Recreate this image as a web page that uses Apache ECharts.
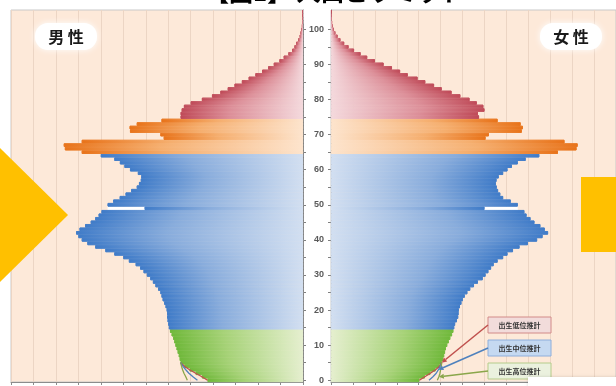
<!DOCTYPE html>
<html>
<head>
<meta charset="utf-8">
<script src="https://cdn.jsdelivr.net/npm/echarts@6/dist/echarts.min.js"></script>
<style>
  html, body { margin: 0; padding: 0; background: #ffffff; }
  #chart { width: 616px; height: 386px; }
</style>
</head>
<body>
<div id="chart"></div>
<script>
// Single-year age categories 0 .. 105
const ages = Array.from({ length: 106 }, (_, i) => String(i));
const ageTickLabels = ['0', '10', '20', '30', '40', '50', '60', '70', '80', '90', '100'];

// Population by single year of age (thousands), ages 5 .. 105
const maleFrom5 = [
  545, 549, 553, 558, 563, 568, 573, 578, 585, 592,
  597, 600, 603, 605, 605, 607, 612, 618, 625, 630,
  635, 645, 657, 668, 680, 695, 710, 725, 745, 775,
  800, 840, 880, 925, 960, 985, 1000, 1010, 995, 970,
  945, 925, 910, 897, 705, 870, 845, 816, 790, 765,
  740, 730, 722, 720, 735, 770, 795, 815, 840, 900,
  985, 1060, 1065, 985, 620, 635, 770, 772, 740, 630,
  545, 545, 540, 530, 500, 450, 405, 368, 335, 305,
  272, 242, 212, 182, 155, 130, 105, 86, 65, 48,
  38, 30, 21, 15, 11, 8, 5, 3, 2, 1, 1
];
const femaleFrom5 = [
  505, 512, 516, 520, 524, 530, 537, 544, 552, 558,
  562, 566, 574, 580, 582, 583, 588, 595, 601, 610,
  622, 635, 652, 670, 692, 705, 718, 730, 742, 760,
  785, 805, 830, 860, 898, 940, 965, 990, 975, 955,
  928, 910, 892, 882, 700, 852, 820, 785, 772, 762,
  756, 752, 755, 765, 785, 805, 825, 852, 888, 950,
  1035, 1120, 1125, 1065, 705, 720, 870, 875, 865, 760,
  675, 670, 700, 695, 665, 632, 590, 550, 505, 470,
  430, 395, 350, 315, 278, 240, 200, 165, 135, 105,
  80, 60, 43, 30, 20, 13, 8, 5, 3, 2, 1
];

// Births scenarios, ages 0 .. 4 (thousands)
const maleLow    = [425, 450, 478, 505, 528];
const maleMid    = [470, 490, 508, 522, 535];
const maleHigh   = [515, 522, 530, 536, 541];
const femaleLow  = [403, 428, 453, 477, 495];
const femaleMid  = [447, 465, 480, 490, 498];
const femaleHigh = [485, 492, 497, 500, 503];

const scenarioNames = ['出生低位推計', '出生中位推計', '出生高位推計'];

// Age band gradients: tip colour, middle, colour near the centre axis
const bandColors = {
  elder:   ['#bf4a58', '#dc8e98', '#f4d9dd'],
  senior:  ['#e8731a', '#f5ae6e', '#fde4cd'],
  working: ['#3f7bc8', '#88acdc', '#d2dff1'],
  child:   ['#6fb83a', '#a6d277', '#e5efcf']
};
function bandOf(age) {
  if (age >= 75) return 'elder';
  if (age >= 65) return 'senior';
  if (age >= 15) return 'working';
  return 'child';
}
function gradient(band, leftward) {
  const c = bandColors[band];
  return {
    type: 'linear', x: leftward ? 0 : 1, y: 0, x2: leftward ? 1 : 0, y2: 0,
    colorStops: [
      { offset: 0, color: c[0] },
      { offset: 0.4, color: c[1] },
      { offset: 1, color: c[2] }
    ]
  };
}
function barItems(values, leftward) {
  return values.map((v, age) => {
    const g = gradient(bandOf(age), leftward);
    return { value: v, itemStyle: { color: g, borderColor: g, borderWidth: 0.8 } };
  });
}
function scenarioLine(under5, from5) {
  return under5.concat([from5[0]]).map((v, age) => [v, age]);
}
// White notch where a cohort is much smaller than the one above it (age 49)
function notch(values, age) {
  return values.map((v, a) => (a === age ? values[a + 1] : null));
}

const maleAll = maleLow.concat(maleFrom5);
const femaleAll = femaleLow.concat(femaleFrom5);

const chart = echarts.init(document.getElementById('chart'), null, { renderer: 'canvas' });

const plotBg = '#fde9d9';
const gridTop = 10, gridH = 372, gridW = 292;
const barW = '100%';

const valueAxis = (gridIndex, inverse) => ({
  type: 'value', gridIndex, min: 0, max: 1300, interval: 100, inverse,
  axisLine: { show: true, onZero: false, lineStyle: { color: '#8c8c8c', width: 1 } },
  axisTick: { show: true, length: 3, lineStyle: { color: '#8c8c8c' } },
  axisLabel: { show: false },
  splitLine: { show: true, lineStyle: { color: '#ecd5c4', width: 1 } }
});
const ageAxis = (gridIndex, position, showLabels) => ({
  type: 'category', gridIndex, position, data: ages,
  axisLine: { show: true, lineStyle: { color: '#7f7f7f', width: 1 } },
  axisTick: {
    show: true, length: 3, alignWithLabel: true,
    interval: (i) => i % 5 === 0 && i <= 100,
    lineStyle: { color: '#7f7f7f' }
  },
  axisLabel: {
    show: showLabels, interval: 0, margin: 7,
    formatter: (v) => ageTickLabels.indexOf(v) >= 0 ? v : '',
    color: '#595959', fontSize: 9, fontWeight: 'bold', fontFamily: 'Liberation Sans, Arial, sans-serif'
  },
  splitLine: { show: false }
});

const scenarioColors = ['#c0504d', '#4f81bd', '#8aa64a'];
function lineSeries(name, data, color, axisIdx) {
  return {
    name, type: 'line', xAxisIndex: axisIdx, yAxisIndex: axisIdx, data,
    symbol: 'none', lineStyle: { color, width: 1.3 }, silent: true, z: 5
  };
}
function notchSeries(values, axisIdx) {
  return {
    type: 'bar', xAxisIndex: axisIdx, yAxisIndex: axisIdx, barWidth: barW, barGap: '-100%',
    data: notch(values, 49), itemStyle: { color: '#ffffff' }, silent: true, z: 1
  };
}
function popSeries(name, values, axisIdx, leftward) {
  return {
    name, type: 'bar', xAxisIndex: axisIdx, yAxisIndex: axisIdx, barWidth: barW, barGap: '-100%',
    data: barItems(values, leftward), silent: true, z: 2
  };
}

chart.setOption({
  animation: false,
  backgroundColor: '#ffffff',
  grid: [
    { left: 11, top: gridTop, width: gridW, height: gridH, show: true, backgroundColor: plotBg, borderColor: '#c9c9c9', borderWidth: 1 },
    { left: 331, top: gridTop, width: gridW, height: gridH, show: true, backgroundColor: plotBg, borderColor: '#c9c9c9', borderWidth: 1 }
  ],
  xAxis: [valueAxis(0, true), valueAxis(1, false)],
  yAxis: [ageAxis(0, 'right', false), ageAxis(1, 'left', true)],
  series: [
    notchSeries(maleAll, 0),
    notchSeries(femaleAll, 1),
    popSeries('男性', maleAll, 0, true),
    popSeries('女性', femaleAll, 1, false),
    lineSeries(scenarioNames[0], scenarioLine(maleLow, maleFrom5), scenarioColors[0], 0),
    lineSeries(scenarioNames[1], scenarioLine(maleMid, maleFrom5), scenarioColors[1], 0),
    lineSeries(scenarioNames[2], scenarioLine(maleHigh, maleFrom5), scenarioColors[2], 0),
    lineSeries(scenarioNames[0], scenarioLine(femaleLow, femaleFrom5), scenarioColors[0], 1),
    lineSeries(scenarioNames[1], scenarioLine(femaleMid, femaleFrom5), scenarioColors[1], 1),
    lineSeries(scenarioNames[2], scenarioLine(femaleHigh, femaleFrom5), scenarioColors[2], 1)
  ]
});

// Scenario legend boxes with arrows pointing at the female scenario lines
const boxFill = ['#f2dcdb', '#c5d9f1', '#ebf1de'];
const boxStroke = ['#d28a88', '#8eaedb', '#b5cc8a'];
const arrowAge = [5, 3, 1];
const lineSeriesIdx = [7, 8, 9];
const scenarioFemale = [femaleLow, femaleMid, femaleHigh];
const graphics = [];

// decorative page shapes
graphics.push({ type: 'polygon', shape: { points: [[0, 148], [68, 215], [0, 282]] }, style: { fill: '#ffc000' }, z: 100 });
graphics.push({ type: 'rect', shape: { x: 581, y: 177, width: 40, height: 75 }, style: { fill: '#ffc000' }, z: 100 });
graphics.push({ type: 'rect', shape: { x: 528, y: 377, width: 100, height: 12 }, style: { fill: '#ffffff', shadowBlur: 3, shadowColor: 'rgba(0,0,0,0.15)' }, z: 100 });

// title (mostly above the visible area)
graphics.push({
  type: 'text', left: 205, top: -20, z: 100,
  style: { text: '【図1】 人口ピラミッド', fill: '#000', font: 'bold 24px "Noto Sans CJK JP", sans-serif' }
});

// sex labels
[['男 性', 35], ['女 性', 540]].forEach(([t, x]) => {
  graphics.push({ type: 'rect', shape: { x, y: 23, width: 62, height: 27, r: 13 }, style: { fill: '#ffffff', shadowBlur: 6, shadowColor: '#ffffff' }, z: 90 });
  graphics.push({ type: 'text', x: x + 31, y: 37, z: 91, style: { text: t, fill: '#1a1a1a', font: 'bold 16px "Noto Sans CJK JP", sans-serif', align: 'center', verticalAlign: 'middle' } });
});

const boxX = 488, boxW = 63, boxH = 16, boxY = [317, 340, 363];
scenarioNames.forEach((name, k) => {
  graphics.push({ type: 'rect', shape: { x: boxX, y: boxY[k], width: boxW, height: boxH }, style: { fill: boxFill[k], stroke: boxStroke[k], lineWidth: 1 }, z: 80 });
  graphics.push({ type: 'text', x: boxX + boxW / 2, y: boxY[k] + boxH / 2, z: 81, style: { text: name, fill: '#333', font: 'bold 7px "Noto Sans CJK JP", sans-serif', align: 'center', verticalAlign: 'middle' } });
  const a = arrowAge[k];
  const v = a < 5 ? scenarioFemale[k][a] : femaleFrom5[0];
  const target = chart.convertToPixel({ seriesIndex: lineSeriesIdx[k] }, [v, a]);
  const sx = boxX, sy = boxY[k] + boxH / 2;
  const ang = Math.atan2(target[1] - sy, target[0] - sx);
  const hl = 5, hw = 2.5;
  const bx = target[0] - hl * Math.cos(ang), by = target[1] - hl * Math.sin(ang);
  graphics.push({ type: 'line', shape: { x1: sx, y1: sy, x2: bx, y2: by }, style: { stroke: scenarioColors[k], lineWidth: 1.5 }, z: 82 });
  graphics.push({ type: 'polygon', shape: { points: [
    [target[0], target[1]],
    [bx + hw * Math.sin(ang), by - hw * Math.cos(ang)],
    [bx - hw * Math.sin(ang), by + hw * Math.cos(ang)]
  ] }, style: { fill: scenarioColors[k] }, z: 82 });
});

chart.setOption({ graphic: graphics });
</script>
</body>
</html>
